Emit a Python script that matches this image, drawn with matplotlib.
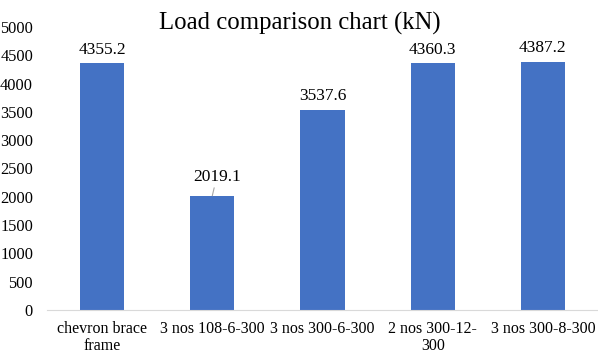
import matplotlib.pyplot as plt

categories = ['chevron brace\nframe', '3 nos 108-6-300', '3 nos 300-6-300', '2 nos 300-12-\n300', '3 nos 300-8-300']
loads = [4355.2, 2019.1, 3537.6, 4360.3, 4387.2]
yticks = list(range(0, 5001, 500))

plt.rcParams['font.family'] = ['Liberation Serif', 'DejaVu Serif']

fig = plt.figure(figsize=(5.98, 3.6), dpi=100)
ax = fig.add_axes([47/598, 1 - 310/360, 551/598, 283/360])
x = range(len(categories))
bars = ax.bar(x, loads, width=0.4, color='#4472C4')
ax.set_xlim(-0.5, len(categories) - 0.5)
ax.set_ylim(0, 5000)
ax.set_yticks(yticks)
ax.tick_params(axis='y', length=0, labelsize=11.8, pad=10)
ax.tick_params(axis='x', length=0, labelsize=11.5, pad=8)
ax.set_xticks(list(x))
ax.set_xticklabels(categories, linespacing=1.1)
for s in ['top', 'right', 'left']:
    ax.spines[s].set_visible(False)
ax.spines['bottom'].set_color('#d9d9d9')

for i, v in enumerate(loads):
    if i == 1:
        ax.annotate(f'{v}', xy=(i, v), xytext=(i + 0.04, v + 330), ha='center', va='center',
                    fontsize=12.5, arrowprops=dict(arrowstyle='-', color='#a6a6a6', lw=0.8,
                                                   shrinkA=7, shrinkB=0))
    else:
        ax.annotate(f'{v}', xy=(i, v), xytext=(0, 4), textcoords='offset points',
                    ha='center', va='bottom', fontsize=12.5)

fig.text(0.502, 1 - 23/360, 'Load comparison chart (kN)', ha='center', va='center', fontsize=17.8)
fig.savefig('out.png', dpi=100)
